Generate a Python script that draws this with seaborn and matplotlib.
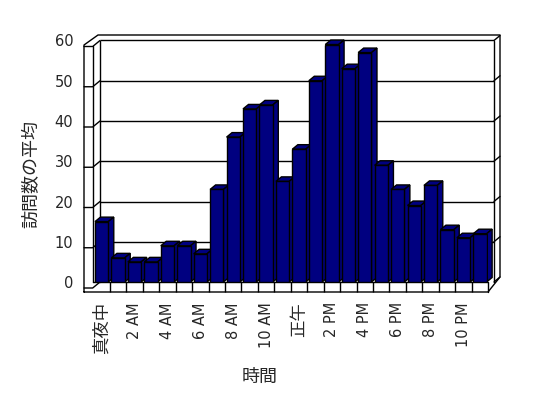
import matplotlib
matplotlib.use('Agg')
import matplotlib.pyplot as plt
import seaborn as sns
import pandas as pd
from matplotlib.patches import Polygon
from matplotlib.lines import Line2D

# average visits per hour of day
hours = ['真夜中', '1 AM', '2 AM', '3 AM', '4 AM', '5 AM', '6 AM', '7 AM',
         '8 AM', '9 AM', '10 AM', '11 AM', '正午', '1 PM', '2 PM', '3 PM',
         '4 PM', '5 PM', '6 PM', '7 PM', '8 PM', '9 PM', '10 PM', '11 PM']
visits = [15, 6, 5, 5, 9, 9, 7, 23, 36, 43, 44, 25,
          33, 50, 59, 53, 57, 29, 23, 19, 24, 13, 11, 12]
y_ticks = [0, 10, 20, 30, 40, 50, 60]

NAVY = '#000080'
W, H = 548, 398


def px(x, y):
    """pixel coords (origin top-left) -> figure fraction"""
    return x / W, 1 - y / H


def line(ax, pts, **kw):
    xs, ys = zip(*[px(*p) for p in pts])
    ax.add_line(Line2D(xs, ys, transform=ax.figure.transFigure, color='black',
                       lw=1, clip_on=False, zorder=kw.pop('zorder', 1), **kw))


sns.set_style('white')
plt.rcParams['font.family'] = ['DejaVu Sans', 'Noto Sans CJK JP']

fig = plt.figure(figsize=(W / 100, H / 100), dpi=100)
ax = fig.add_axes([93.4 / W, 1 - 282 / H, 394.8 / W, 241.5 / H])

df = pd.DataFrame({'hour': hours, 'visits': visits})
sns.barplot(data=df, x='hour', y='visits', order=hours, color=NAVY, saturation=1,
            width=0.81, edgecolor='black', linewidth=1, ax=ax, zorder=3)
ax.set_xlim(-0.5, len(hours) - 0.5)
ax.set_ylim(0, 60)
for s in ax.spines.values():
    s.set_visible(False)

# fake 3D: top and side faces of each bar
DX, DY = 5.5, 4.5
for p in list(ax.patches):
    (x0, y0), (x1, y1) = ax.transData.transform(
        [(p.get_x(), p.get_y()), (p.get_x() + p.get_width(), p.get_y() + p.get_height())])
    top = [(x0, y1), (x1, y1), (x1 + DX, y1 + DY), (x0 + DX, y1 + DY)]
    side = [(x1, y0), (x1 + DX, y0 + DY), (x1 + DX, y1 + DY), (x1, y1)]
    for pts in (top, side):
        ax.add_patch(Polygon([(a / W, b / H) for a, b in pts], closed=True,
                             transform=fig.transFigure, fc=NAVY, ec='black',
                             lw=1, clip_on=False, zorder=2.5))

# back wall gridlines + side wall segments
ax.hlines(y_ticks[1:], (100 - 93.4) / 394.8, (494 - 93.4) / 394.8,
          transform=ax.get_yaxis_transform(), color='black', lw=1, zorder=1, clip_on=False)
for v in y_ticks:
    yb = H - ax.transData.transform((0, v))[1]
    line(ax, [(84, yb + 6), (92.7, yb + 6), (100, yb)])
    line(ax, [(494, yb), (500, yb - 5)])

# box edges
line(ax, [(84, 292), (84, 45), (98, 35), (500, 35), (500, 277), (488, 292), (84, 292)])
line(ax, [(92.7, 282), (92.7, 46)])
line(ax, [(100, 40.5), (100, 282)])
line(ax, [(494, 40.5), (494, 282)])
line(ax, [(92.7, 282), (488, 282), (488, 292)])
ax.vlines([k + 0.5 for k in range(len(hours) - 1)], -10 / 241.5, 0,
          transform=ax.get_xaxis_transform(), color='black', lw=1, clip_on=False)

ax.set_yticks(y_ticks)
ax.set_yticklabels([str(t) for t in y_ticks], fontsize=10.5)
ax.set_xticks(range(0, len(hours), 2))
ax.set_xticklabels(hours[::2], rotation=90, fontsize=10.5)
for lab in ax.get_xticklabels():
    if not lab.get_text().isascii():
        lab.set_fontsize(12.5)
ax.tick_params(axis='y', length=0, pad=14.5)
ax.tick_params(axis='x', length=0, pad=14.5)

ax.set_ylabel('訪問数の平均', fontsize=13)
ax.set_xlabel('時間', fontsize=13)
ax.yaxis.set_label_coords(-0.135, 0.447)
ax.xaxis.set_label_coords(0.422, -0.355)

fig.savefig('out.png', dpi=100)
